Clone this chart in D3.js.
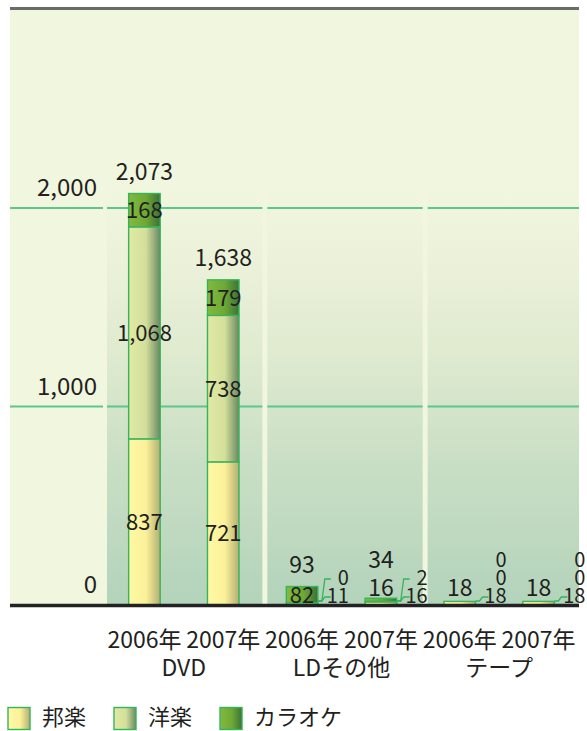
<!DOCTYPE html>
<html>
<head>
<meta charset="utf-8">
<script src="https://cdn.jsdelivr.net/npm/d3@7"></script>
<style>
  body { margin: 0; background: #fff; }
  text { font-family: "Noto Sans CJK JP", "Noto Sans", sans-serif; fill: #231f20; }
</style>
</head>
<body>
<svg id="chart" width="587" height="731"></svg>
<script>
// data
var categories = ["DVD", "LDその他", "テープ"];
var years = ["2006年", "2007年"];
var series = ["邦楽", "洋楽", "カラオケ"];
var hogaku = [837, 721, 11, 16, 18, 18];
var yogaku = [1068, 738, 0, 2, 0, 0];
var karaoke = [168, 179, 82, 16, 0, 0];
var totals = [2073, 1638, 93, 34, 18, 18];
var yTicks = [0, 1000, 2000];
var tickLabels = ["0", "1,000", "2,000"];

var rows = hogaku.map(function (v, i) {
  return {
    key: categories[Math.floor(i / 2)] + "|" + years[i % 2],
    group: categories[Math.floor(i / 2)],
    year: years[i % 2],
    "邦楽": v, "洋楽": yogaku[i], "カラオケ": karaoke[i],
    total: totals[i]
  };
});

var plotLeft = 10, plotRight = 579, plotTop = 9, plotBottom = 605;
var svg = d3.select("#chart");

var y = d3.scaleLinear().domain([0, 2000]).range([plotBottom, 208]);
var x = d3.scaleBand()
  .domain(rows.map(function (d) { return d.key; }))
  .range([105, 578])
  .paddingInner(0.6)
  .paddingOuter(0.3);
var gx = d3.scaleBand().domain(categories).range([107, 583]).paddingInner(0.031);

var colors = {
  "邦楽": ["#fff8a4", "#fbf19a", "#b3ae72"],
  "洋楽": ["#e1eaa5", "#d3df9b", "#6b8862"],
  "カラオケ": ["#82ba3e", "#6ea835", "#3b7238"]
};

var defs = svg.append("defs");
series.forEach(function (s, i) {
  var g = defs.append("linearGradient").attr("id", "grad" + i)
    .attr("x1", 0).attr("x2", 1).attr("y1", 0).attr("y2", 0);
  g.append("stop").attr("offset", "0%").attr("stop-color", colors[s][0]);
  g.append("stop").attr("offset", "55%").attr("stop-color", colors[s][1]);
  g.append("stop").attr("offset", "100%").attr("stop-color", colors[s][2]);
});
var pg = defs.append("linearGradient").attr("id", "panelGrad")
  .attr("gradientUnits", "userSpaceOnUse")
  .attr("x1", 0).attr("x2", 0).attr("y1", plotTop).attr("y2", plotBottom);
pg.append("stop").attr("offset", "0%").attr("stop-color", "#f1f6df");
pg.append("stop").attr("offset", "30%").attr("stop-color", "#f1f6df");
pg.append("stop").attr("offset", "40%").attr("stop-color", "#edf3db");
pg.append("stop").attr("offset", "58%").attr("stop-color", "#dfeacf");
pg.append("stop").attr("offset", "76%").attr("stop-color", "#c9dfc5");
pg.append("stop").attr("offset", "100%").attr("stop-color", "#b3d3bb");

// background
svg.append("rect")
  .attr("x", plotLeft).attr("y", plotTop)
  .attr("width", plotRight - plotLeft).attr("height", plotBottom - plotTop)
  .attr("fill", "#f1f6df");

svg.append("g").selectAll("rect")
  .data(categories)
  .enter()
  .append("rect")
    .attr("x", function (d) { return gx(d); })
    .attr("y", plotTop)
    .attr("width", function (d) { return Math.min(gx.bandwidth(), plotRight - gx(d)); })
    .attr("height", plotBottom - plotTop)
    .attr("fill", "url(#panelGrad)");

svg.append("line")
  .attr("x1", plotLeft).attr("x2", plotRight)
  .attr("y1", 8.5).attr("y2", 8.5)
  .attr("stroke", "#6b6b6b").attr("stroke-width", 3);

// gridlines, broken at the panel gaps
var segs = [[plotLeft, gx(categories[0]) - 4]].concat(categories.map(function (c) {
  return [gx(c), Math.min(gx(c) + gx.bandwidth(), plotRight)];
}));
yTicks.slice(1).forEach(function (t) {
  svg.append("g").selectAll("line")
    .data(segs)
    .enter()
    .append("line")
      .attr("x1", function (d) { return d[0]; })
      .attr("x2", function (d) { return d[1]; })
      .attr("y1", y(t)).attr("y2", y(t))
      .attr("stroke", "#5cc68b").attr("stroke-width", 2);
});

// tick labels
svg.append("g").selectAll("text")
  .data(yTicks)
  .enter()
  .append("text")
    .attr("x", 97)
    .attr("y", function (d) { return y(d) - 12; })
    .attr("text-anchor", "end")
    .style("font-size", "24px")
    .text(function (d, i) { return tickLabels[i]; });

// bars
var stack = d3.stack().keys(series)(rows);
var bw = x.bandwidth();
svg.append("g").selectAll("g")
  .data(stack)
  .enter()
  .append("g")
    .attr("fill", function (d, i) { return "url(#grad" + i + ")"; })
  .selectAll("rect")
  .data(function (d) { return d; })
  .enter()
  .append("rect")
    .attr("x", function (d) { return x(d.data.key); })
    .attr("y", function (d) { return y(d[1]); })
    .attr("width", bw)
    .attr("height", function (d) { return y(d[0]) - y(d[1]); })
    .attr("stroke", "#36b45c")
    .attr("stroke-width", 1.4);

// baseline
svg.append("line")
  .attr("x1", plotLeft).attr("x2", plotRight)
  .attr("y1", plotBottom + 0.5).attr("y2", plotBottom + 0.5)
  .attr("stroke", "#222").attr("stroke-width", 3.5);

// value labels
var labels = svg.append("g");
var fmt = d3.format(",");
rows.forEach(function (r, i) {
  var cx = x(r.key) + bw / 2;
  var x1 = x(r.key) + bw;
  var barTop = y(r.total);
  var above = barTop > 590 ? 596 : barTop - 14;
  var few = r.total < 20;
  stack.forEach(function (s, j) {
    var d = s[i];
    var h = y(d[0]) - y(d[1]);
    var v = d.data[series[j]];
    if (h >= 14) {
      labels.append("text")
        .attr("x", cx).attr("y", (y(d[0]) + y(d[1])) / 2 + 8)
        .attr("text-anchor", "middle")
        .style("font-size", "22px")
        .text(fmt(v));
    } else if (j === 2 && v > 0) {
      labels.append("text")
        .attr("x", cx).attr("y", above)
        .attr("text-anchor", "middle")
        .style("font-size", "23px")
        .text(fmt(v));
      above -= 28;
    } else {
      var base = 603 - j * 18;
      var mid = base - 6;
      labels.append("text")
        .attr("x", x1 + 31).attr("y", base)
        .attr("text-anchor", "end")
        .style("font-size", "20px")
        .text(fmt(v));
      if (!few || j === 0) {
        var ys = Math.min((y(d[0]) + y(d[1])) / 2, 601);
        labels.append("path")
          .attr("d", "M" + x1 + "," + ys + "H" + (x1 + 4) +
            "L" + (x1 + 7) + "," + mid + "H" + (x1 + 13))
          .attr("fill", "none")
          .attr("stroke", "#36b45c")
          .attr("stroke-width", 1.3);
      }
    }
  });
  labels.append("text")
    .attr("x", cx).attr("y", above)
    .attr("text-anchor", "middle")
    .style("font-size", "23px")
    .text(fmt(r.total));
});

// x labels
svg.append("g").selectAll("text")
  .data(rows)
  .enter()
  .append("text")
    .attr("x", function (d) { return x(d.key) + bw / 2; })
    .attr("y", 648)
    .attr("text-anchor", "middle")
    .style("font-size", "23px")
    .text(function (d) { return d.year; });

svg.append("g").selectAll("text")
  .data(categories)
  .enter()
  .append("text")
    .attr("x", function (d) {
      var ks = rows.filter(function (r) { return r.group === d; });
      return (x(ks[0].key) + x(ks[1].key)) / 2 + bw / 2;
    })
    .attr("y", 676)
    .attr("text-anchor", "middle")
    .style("font-size", "23px")
    .text(function (d) { return d; });

// legend
var lx = 8;
series.forEach(function (s, i) {
  svg.append("rect")
    .attr("x", lx).attr("y", 707.5)
    .attr("width", 22).attr("height", 22)
    .attr("fill", "url(#grad" + i + ")")
    .attr("stroke", "#36b45c").attr("stroke-width", 1.4);
  var t = svg.append("text")
    .attr("x", lx + 34).attr("y", 725)
    .style("font-size", "22px")
    .text(s);
  lx += 34 + t.node().getComputedTextLength() + 28;
});
</script>
</body>
</html>
